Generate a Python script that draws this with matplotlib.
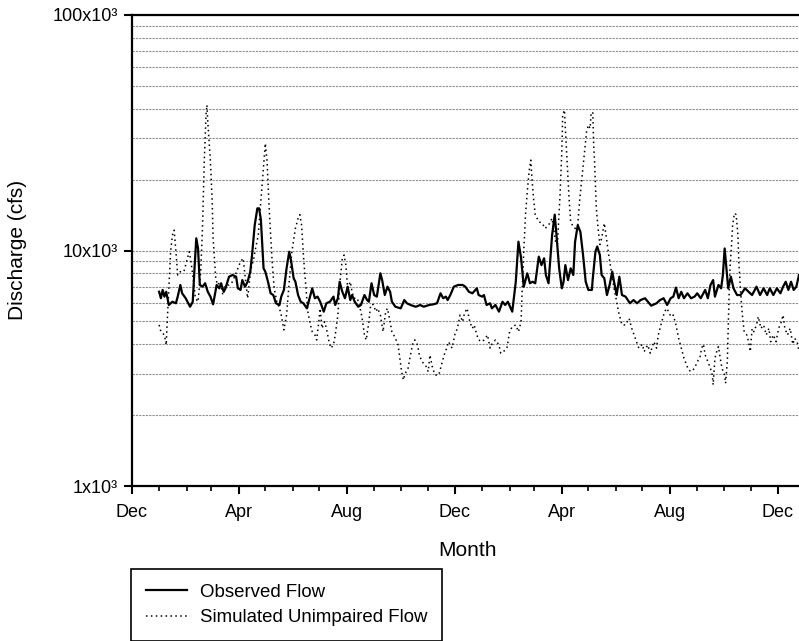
import matplotlib
matplotlib.use("Agg")
import matplotlib.pyplot as plt
import matplotlib.dates as mdates
import matplotlib.ticker as mticker
import pandas as pd

plt.rcParams['font.family'] = ['Liberation Sans', 'DejaVu Sans']

# days counted from 1 January of the first year of record
start = pd.Timestamp('2001-01-01')

obs_day = [0, 2, 4, 6, 8, 11, 15, 19, 21, 24, 26, 30, 35, 38, 40, 42, 44, 46, 49, 52,
           55, 58, 61, 65, 68, 70, 73, 75, 79, 83, 87, 89, 92, 94, 97, 100, 103, 105, 108, 111,
           113, 115, 118, 120, 123, 126, 129, 132, 136, 138, 141, 144, 147, 149, 152, 154, 157, 160, 163, 167,
           171, 173, 176, 179, 182, 186, 189, 193, 197, 199, 202, 204, 207, 210, 213, 216, 218, 221, 225, 228,
           232, 235, 237, 240, 243, 246, 250, 252, 255, 258, 261, 263, 267, 273, 277, 280, 284, 290, 295, 299,
           305, 310, 314, 318, 321, 324, 326, 329, 333, 338, 343, 346, 350, 354, 359, 361, 365, 367, 370, 374,
           376, 380, 384, 388, 391, 394, 399, 403, 406, 409, 412, 416, 419, 422, 425, 429, 432, 435, 437, 440,
           444, 447, 449, 452, 455, 457, 459, 462, 465, 468, 470, 473, 476, 479, 482, 485, 489, 490, 493, 495,
           498, 500, 503, 506, 509, 512, 514, 517, 520, 523, 527, 532, 536, 540, 544, 549, 556, 562, 566, 570,
           574, 578, 581, 584, 587, 590, 593, 597, 601, 605, 608, 612, 615, 617, 620, 623, 626, 628, 632, 635,
           637, 639, 641, 643, 646, 649, 653, 657, 662, 666, 670, 675, 679, 683, 687, 690, 694, 698, 702, 705,
           708, 711, 714, 717, 720, 723]
obs_cfs = [6680, 6270, 6800, 6370, 6680, 5870, 6060, 5970, 6370, 7140, 6580, 6270, 5770, 6060, 8400, 11270, 10200, 7140, 7020, 7260,
           6680, 6370, 5910, 7140, 6910, 7260, 6680, 6910, 7740, 7870, 7740, 6910, 6800, 7490, 7020, 7370, 8130, 9570, 12800, 15100,
           15100, 13500, 8400, 8130, 7370, 6580, 6470, 5970, 5870, 6370, 6800, 8400, 9880, 9100, 7620, 7370, 6470, 6060, 5970, 5680,
           6470, 6910, 6270, 6370, 6060, 5500, 5970, 6060, 6370, 5870, 6270, 7370, 6680, 6270, 7020, 6160, 6470, 6060, 5770, 5870,
           6470, 6160, 6060, 7260, 6470, 6370, 8000, 7490, 6470, 7020, 6680, 6060, 5770, 5680, 6160, 5970, 5870, 5770, 5870, 5770,
           5870, 5910, 5970, 6580, 6270, 6370, 6160, 6470, 7020, 7140, 7140, 7020, 6680, 6580, 6910, 6470, 6370, 6470, 5870, 5970,
           5680, 5870, 5500, 6060, 5870, 6060, 5500, 7370, 10900, 9270, 7020, 8000, 7260, 7370, 7260, 9420, 8670, 9270, 7870, 7260,
           11600, 14200, 11600, 8400, 6910, 7370, 8670, 7490, 8400, 7870, 10900, 12800, 12000, 9570, 7370, 6800, 6800, 7620, 9880, 10400,
           9570, 7870, 7620, 6470, 7140, 8130, 7370, 6470, 7740, 6470, 6370, 5970, 6160, 5970, 6160, 6270, 5830, 5970, 6160, 6270,
           5870, 6270, 6370, 6960, 6270, 6680, 6270, 6580, 6270, 6370, 6580, 6270, 6580, 6800, 6270, 7140, 7490, 6370, 7140, 6910,
           7870, 10200, 8400, 6910, 7740, 6910, 6470, 6470, 6910, 6680, 6470, 7020, 6470, 6910, 6470, 6910, 6470, 6910, 6580, 7020,
           7370, 6800, 7370, 6800, 7020, 7870]

sim_day = [0, 2, 6, 8, 9, 11, 13, 15, 17, 19, 21, 24, 28, 31, 34, 36, 39, 41, 44, 47,
           49, 51, 53, 54, 55, 58, 60, 61, 64, 66, 69, 72, 75, 79, 83, 89, 92, 95, 97, 100,
           102, 104, 107, 109, 112, 114, 117, 119, 120, 122, 124, 126, 128, 130, 133, 136, 138, 141, 144, 147,
           150, 154, 157, 159, 161, 163, 166, 168, 171, 173, 176, 178, 180, 182, 184, 187, 189, 192, 194, 197,
           199, 202, 204, 207, 209, 211, 213, 216, 218, 220, 224, 228, 230, 232, 234, 237, 239, 242, 245, 247,
           250, 253, 256, 258, 261, 263, 267, 270, 272, 274, 276, 278, 281, 284, 287, 289, 292, 294, 297, 301,
           304, 306, 309, 312, 316, 319, 322, 325, 327, 331, 334, 337, 340, 343, 345, 348, 351, 354, 356, 359,
           361, 365, 368, 371, 374, 376, 380, 384, 386, 389, 393, 396, 399, 403, 406, 409, 410, 412, 414, 416,
           418, 420, 421, 423, 425, 429, 433, 436, 440, 444, 448, 450, 453, 455, 456, 458, 459, 461, 463, 465,
           468, 470, 473, 475, 478, 481, 483, 485, 487, 488, 490, 491, 492, 493, 494, 496, 498, 500, 503, 505,
           508, 511, 514, 517, 519, 523, 527, 531, 534, 538, 542, 546, 548, 552, 555, 559, 562, 564, 567, 570,
           573, 576, 578, 581, 584, 587, 590, 593, 596, 598, 601, 605, 608, 611, 613, 615, 617, 620, 623, 625,
           626, 628, 630, 632, 634, 636, 639, 640, 642, 643, 644, 645, 647, 648, 650, 652, 654, 655, 657, 659,
           661, 664, 666, 668, 670, 672, 675, 677, 680, 683, 686, 689, 691, 694, 697, 700, 703, 705, 707, 710,
           713, 716, 718, 721, 723]
sim_cfs = [4830, 4520, 4380, 3970, 4830, 6910, 9880, 11600, 12200, 9880, 7870, 8130, 8130, 8970, 9880, 8970, 7370, 6270, 6060, 8130,
           12400, 23800, 37600, 41500, 35200, 23800, 16100, 11270, 7620, 7140, 7370, 6470, 7140, 7140, 7370, 8400, 8970, 9270, 7870, 6270,
           7370, 8400, 9270, 10200, 11600, 14600, 20300, 25400, 28500, 23800, 16100, 11600, 8670, 6910, 6060, 5680, 5320, 4600, 5320, 7370,
           9880, 12400, 13700, 14200, 12800, 9570, 6910, 5500, 4830, 4520, 4380, 4170, 4830, 5680, 4670, 4980, 4670, 4100, 3850, 3970,
           4380, 5320, 7140, 9270, 9570, 8670, 6910, 7370, 6680, 6270, 6270, 5500, 4980, 4380, 4170, 4980, 5870, 5900, 5500, 5680,
           5320, 4520, 5500, 5680, 4980, 4520, 4240, 3970, 3490, 3060, 2820, 3010, 3120, 3600, 4100, 4170, 3970, 3600, 3370, 3260,
           3060, 3600, 3160, 2960, 2960, 3260, 3600, 3850, 4100, 3850, 4380, 4670, 5320, 4980, 5410, 5680, 4980, 4670, 4830, 4380,
           4170, 4100, 4200, 4380, 3850, 4000, 4170, 3970, 3660, 3720, 3850, 4520, 4750, 4830, 4520, 4980, 6470, 9880, 14200, 17800,
           21600, 24200, 20900, 16700, 14200, 13250, 13050, 12400, 12800, 13700, 10900, 10600, 17200, 26300, 37600, 39500, 33000, 23800, 17200, 13250,
           12600, 12400, 12800, 16100, 20900, 27200, 32000, 34100, 33000, 37600, 38800, 28000, 23800, 19000, 15100, 12400, 10600, 11270, 13050, 11600,
           9570, 8130, 6910, 6060, 5500, 4830, 4830, 5150, 4670, 4240, 3850, 4000, 3720, 3970, 3660, 4100, 3850, 4380, 4830, 5320,
           5680, 5500, 5240, 5320, 4830, 4240, 3850, 3490, 3260, 3120, 3060, 3160, 3370, 3500, 3850, 4000, 3600, 3370, 3160, 2960,
           2690, 3490, 3720, 3910, 3490, 3160, 2960, 2730, 3370, 4670, 6470, 8400, 10900, 12800, 14400, 14200, 11600, 8970, 6680, 5320,
           4520, 4380, 4100, 3720, 4670, 4520, 4830, 5240, 4670, 4830, 4380, 4670, 4100, 4380, 4100, 4670, 4980, 5320, 4670, 4380,
           4670, 4000, 4240, 4100, 3720]

ytick_vals = [1e3, 1e4, 1e5]
ytick_text = ['1x10\u00b3', '10x10\u00b3', '100x10\u00b3']

obs_dates = start + pd.to_timedelta(obs_day, unit='D')
sim_dates = start + pd.to_timedelta(sim_day, unit='D')

fig = plt.figure(figsize=(7.99, 6.41), dpi=100)
ax = fig.add_axes([0.1648, 0.2418, 0.8352, 0.7348])

ax.plot(obs_dates, obs_cfs, color='black', lw=1.6, label='Observed Flow', zorder=3)
ax.plot(sim_dates, sim_cfs, color='black', lw=1.1, linestyle=(0, (1, 2.2)),
        label='Simulated Unimpaired Flow', zorder=3)

ax.set_yscale('log')
ax.set_ylim(1e3, 1e5)
ax.set_xlim(pd.Timestamp('2000-12-01'), start + pd.Timedelta(days=723))

ax.yaxis.set_major_locator(mticker.FixedLocator(ytick_vals))
ax.yaxis.set_major_formatter(mticker.FixedFormatter(ytick_text))
ax.yaxis.set_minor_locator(mticker.LogLocator(base=10, subs=range(2, 10)))
ax.yaxis.set_minor_formatter(mticker.NullFormatter())
ax.tick_params(axis='y', which='minor', length=0)
ax.tick_params(axis='y', which='major', length=6, width=1.5, direction='out', labelsize=13, pad=4)

ax.xaxis.set_major_locator(mdates.MonthLocator(bymonth=(12, 4, 8)))
ax.xaxis.set_minor_locator(mdates.MonthLocator())
ax.xaxis.set_major_formatter(mdates.DateFormatter('%b'))
ax.tick_params(axis='x', which='major', length=6, width=1.5, direction='out', labelsize=13, pad=7)
ax.tick_params(axis='x', which='minor', length=3.5, width=1.2, direction='out')

ax.grid(True, axis='y', which='both', color='0.55', lw=0.8, linestyle=(0, (2, 1)))
ax.set_axisbelow(True)

for side in ('left', 'top', 'bottom'):
    ax.spines[side].set_linewidth(1.6)
ax.spines['right'].set_visible(False)

fig.text(18 / 799, 1 - 250 / 641, 'Discharge (cfs)', rotation=90,
         ha='center', va='center', fontsize=15)
fig.text(468 / 799, 1 - 551 / 641, 'Month', ha='center', va='center', fontsize=15)

leg = fig.legend(loc='upper left', bbox_to_anchor=(131 / 799, 1 - 569 / 641),
                 fontsize=13.4, frameon=True, fancybox=False, framealpha=1,
                 edgecolor='black', handlelength=2.2, handletextpad=0.7,
                 borderpad=0.8, labelspacing=0.44, borderaxespad=0)
leg.get_frame().set_linewidth(1.2)

fig.savefig('out.png', dpi=100)
